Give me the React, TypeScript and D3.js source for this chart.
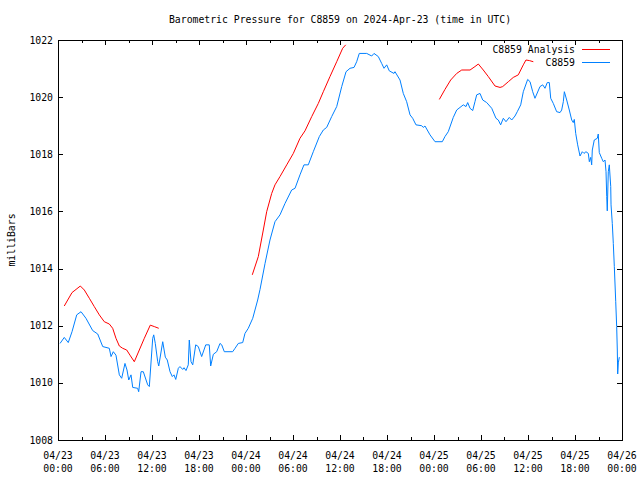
import React from "react";
import * as d3 from "d3";

// hours since 2024-04-23 00:00 UTC
const blueHours = [0.26,0.8,1.31,1.79,2.39,2.94,3.57,4.43,5.07,5.71,6.55,6.77,7.06,7.4,7.83,8.13,8.55,8.81,9.03,9.32,9.54,10.17,10.3,10.6,10.89,11.45,11.66,12.09,12.22,12.42,12.73,12.86,13.37,13.7,13.95,14.3,14.59,14.81,15.03,15.36,15.57,15.92,16.09,16.34,16.63,16.76,16.98,17.2,17.58,17.91,18.34,18.86,19.31,19.49,19.83,20.26,20.68,20.9,21.23,22.3,22.6,23.02,23.58,23.87,24.29,24.86,25.49,25.79,26.43,27.06,27.7,28.34,28.98,29.83,30.26,30.89,31.4,31.95,32.59,33.36,33.87,34.3,34.94,35.58,36.22,36.77,37.28,37.79,38.13,38.46,39.41,40.05,40.34,40.89,41.32,41.62,41.96,42.29,42.89,43.02,43.66,44.08,44.51,44.94,45.28,45.7,46.43,46.63,46.85,47.49,48.13,49.06,49.4,49.82,50.46,50.9,51.32,51.74,52.09,52.3,52.6,52.94,53.23,53.45,53.87,54.22,54.73,55.37,55.91,56.21,56.51,56.85,57.19,57.61,57.92,58.34,58.63,59.07,59.4,59.96,60.26,60.6,60.89,61.53,61.88,62.17,62.46,62.72,62.9,63.23,63.66,64.09,64.3,64.51,64.64,64.94,65.27,65.58,65.78,65.91,66.09,66.34,66.64,66.93,67.15,67.4,67.7,67.83,68.0,68.13,68.21,68.46,68.85,68.97,69.1,69.41,69.61,69.83,69.96,70.05,70.12,70.25,70.38,70.56,70.6,70.76,70.89,71.02,71.2,71.32,71.4,71.45,71.53,71.66];
const bluePressure = [1011.38,1011.59,1011.41,1011.79,1012.38,1012.49,1012.26,1011.83,1011.71,1011.27,1011.21,1010.92,1011.09,1010.97,1010.28,1010.16,1010.68,1010.45,1010.1,1010.28,1009.84,1009.81,1009.69,1010.39,1010.39,1009.93,1009.87,1011.56,1011.68,1011.38,1010.74,1010.59,1011.44,1010.9,1010.8,1010.39,1010.22,1010.28,1010.12,1010.51,1010.57,1010.47,1010.53,1010.43,1010.63,1011.5,1010.74,1010.63,1011.33,1011.27,1010.92,1011.33,1011.33,1010.59,1011.0,1011.09,1011.38,1011.33,1011.09,1011.09,1011.21,1011.38,1011.41,1011.73,1011.91,1012.26,1012.9,1013.27,1014.18,1015.0,1015.64,1015.88,1016.28,1016.75,1016.81,1017.28,1017.63,1017.63,1018.09,1018.62,1018.85,1018.94,1019.32,1019.67,1020.37,1020.89,1021.01,1021.04,1021.24,1021.53,1021.53,1021.44,1021.53,1021.42,1021.18,1021.01,1021.13,1020.92,1020.83,1020.89,1020.6,1020.13,1019.84,1019.38,1019.26,1019.03,1019.0,1018.94,1018.99,1018.68,1018.44,1018.44,1018.62,1018.79,1019.29,1019.55,1019.64,1019.73,1019.67,1019.81,1019.61,1019.53,1019.84,1020.08,1020.13,1019.9,1019.81,1019.61,1019.26,1019.2,1019.03,1019.26,1019.14,1019.29,1019.2,1019.34,1019.49,1019.73,1020.19,1020.62,1020.54,1020.19,1019.96,1020.37,1020.43,1020.31,1020.51,1020.51,1019.96,1019.78,1019.49,1019.46,1019.55,1019.84,1020.19,1019.9,1019.55,1019.2,1019.11,1019.22,1018.73,1018.33,1017.94,1018.09,1018.03,1018.09,1018.03,1017.74,1017.89,1017.63,1018.15,1018.5,1018.56,1018.71,1018.06,1017.86,1017.74,1017.8,1017.39,1016.52,1016.02,1017.39,1017.63,1016.87,1016.23,1015.58,1014.88,1014.07,1012.84,1011.97,1011.15,1010.31,1010.7,1010.9];

const analysisHoursA = [0.8,1.24,1.79,2.3,2.85,3.36,4.0,4.63,5.27,5.91,6.55,6.98,7.4,7.83,8.26,8.77,9.19,9.74,10.38,11.02,11.78,12.29,12.86];
const analysisPressureA = [1012.69,1012.9,1013.16,1013.27,1013.39,1013.25,1012.96,1012.67,1012.38,1012.14,1012.06,1011.91,1011.56,1011.29,1011.21,1011.15,1010.97,1010.74,1011.15,1011.56,1012.02,1011.97,1011.91];
const analysisHoursB = [24.8,25.57,26.21,26.64,27.28,27.7,28.34,29.2,30.04,30.89,31.53,32.39,33.23,33.87,34.72,35.58,36.34,36.73];
const analysisPressureB = [1013.78,1014.42,1015.35,1015.99,1016.63,1016.93,1017.22,1017.63,1018.03,1018.56,1018.82,1019.32,1019.78,1020.19,1020.72,1021.24,1021.71,1021.83];
const analysisHoursC = [48.68,49.4,50.13,50.9,51.54,52.6,53.23,53.66,54.29,54.93,55.79,56.43,56.77,57.49,58.12,58.76,59.4,59.74,60.17,60.68];
const analysisPressureC = [1019.92,1020.27,1020.6,1020.83,1020.95,1020.95,1021.07,1021.16,1020.95,1020.72,1020.39,1020.34,1020.37,1020.54,1020.69,1020.78,1021.13,1021.3,1021.28,1021.24];

const yTicks = [1008,1010,1012,1014,1016,1018,1020,1022];
const xTickHours = [0,6,12,18,24,30,36,42,48,54,60,66,72];
const xTickDates = ["04/23","04/23","04/23","04/23","04/24","04/24","04/24","04/24","04/25","04/25","04/25","04/25","04/26"];
const xTickTimes = ["00:00","06:00","12:00","18:00","00:00","06:00","12:00","18:00","00:00","06:00","12:00","18:00","00:00"];
const xMinorHours = [3,9,15,21,27,33,39,45,51,57,63,69];

const titleText = "Barometric Pressure for C8859 on 2024-Apr-23 (time in UTC)";
const yLabel = "milliBars";
const seriesNames = ["C8859 Analysis", "C8859"];

const FONT = "'DejaVu Sans Mono', 'Liberation Mono', monospace";

export default function App() {
  const W = 640, H = 480;
  const L = 58, R = 622, T = 40, B = 440;
  const x = d3.scaleLinear().domain([0, 72]).range([L, R]);
  const y = d3.scaleLinear().domain([1008, 1022]).range([B, T]);
  const line = d3.line<[number, number]>().x(d => x(d[0])).y(d => y(d[1]));
  const zip = (h: number[], p: number[]) => h.map((v, i) => [v, p[i]] as [number, number]);
  const blue = line(zip(blueHours, bluePressure)) || "";
  const reds = [
    zip(analysisHoursA, analysisPressureA),
    zip(analysisHoursB, analysisPressureB),
    zip(analysisHoursC, analysisPressureC),
  ].map(s => line(s) || "");
  const fs = 9.8;
  return (
    <svg width={W} height={H} style={{ position: "absolute", left: 0, top: 0, background: "#fff" }} fontFamily={FONT}>
      <rect x={0} y={0} width={W} height={H} fill="#fff" />
      <text x={(L + R) / 2} y={23} fontSize={fs} textAnchor="middle" fill="#000">{titleText}</text>
      <text transform={`translate(15,${(T + B) / 2}) rotate(-90)`} fontSize={fs} textAnchor="middle" fill="#000">{yLabel}</text>
      <g shapeRendering="crispEdges" stroke="#000" strokeWidth={1}>
        {yTicks.map(t => (
          <g key={"y" + t}>
            <line x1={L} x2={L + 5} y1={Math.round(y(t)) + 0.5} y2={Math.round(y(t)) + 0.5} />
            <line x1={R - 5} x2={R} y1={Math.round(y(t)) + 0.5} y2={Math.round(y(t)) + 0.5} />
          </g>
        ))}
        {xTickHours.map(h => (
          <g key={"x" + h}>
            <line x1={Math.round(x(h)) + 0.5} x2={Math.round(x(h)) + 0.5} y1={B} y2={B - 5} />
            <line x1={Math.round(x(h)) + 0.5} x2={Math.round(x(h)) + 0.5} y1={T} y2={T + 5} />
          </g>
        ))}
        {xMinorHours.map(h => (
          <g key={"m" + h}>
            <line x1={Math.round(x(h)) + 0.5} x2={Math.round(x(h)) + 0.5} y1={B} y2={B - 3} />
            <line x1={Math.round(x(h)) + 0.5} x2={Math.round(x(h)) + 0.5} y1={T} y2={T + 3} />
          </g>
        ))}
        <rect x={L + 0.5} y={T + 0.5} width={R - L} height={B - T} fill="none" />
      </g>
      {yTicks.map(t => (
        <text key={"yl" + t} x={L - 5} y={y(t) + 3.5} fontSize={fs} textAnchor="end" fill="#000">{t}</text>
      ))}
      {xTickHours.map((h, i) => (
        <g key={"xl" + h}>
          <text x={x(h)} y={459} fontSize={fs} textAnchor="middle" fill="#000">{xTickDates[i]}</text>
          <text x={x(h)} y={472} fontSize={fs} textAnchor="middle" fill="#000">{xTickTimes[i]}</text>
        </g>
      ))}
      <path d={blue} fill="none" stroke="#0080ff" strokeWidth={1} />
      {reds.map((d, i) => (
        <path key={"r" + i} d={d} fill="none" stroke="#ff0000" strokeWidth={1} />
      ))}
      <text x={575} y={52.5} fontSize={fs} textAnchor="end" fill="#000">{seriesNames[0]}</text>
      <line x1={582} x2={610} y1={49.5} y2={49.5} stroke="#ff0000" strokeWidth={1} />
      <text x={575} y={66} fontSize={fs} textAnchor="end" fill="#000">{seriesNames[1]}</text>
      <line x1={582} x2={610} y1={62.5} y2={62.5} stroke="#0080ff" strokeWidth={1} />
    </svg>
  );
}
